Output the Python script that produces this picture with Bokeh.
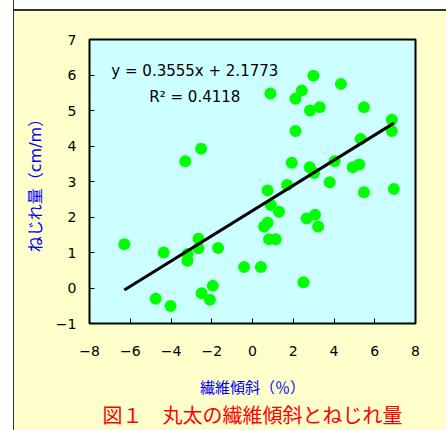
from bokeh.plotting import figure
from bokeh.models import Range1d, FixedTicker, CustomJSTickFormatter, Label, Title
from bokeh.embed import file_html
from bokeh.resources import INLINE

# ---- data ----
fiber_slope = [-6.29, -4.75, -4.36, -4.02, -3.30, -3.19, -3.19, -2.65, -2.65, -2.52,
               -2.50, -2.09, -1.95, -1.69, -0.41, 0.41, 0.57, 0.74, 0.74, 0.81,
               0.88, 0.90, 1.14, 1.30, 1.70, 1.93, 2.11, 2.11, 2.42, 2.50,
               2.66, 2.81, 2.82, 2.99, 3.02, 3.07, 3.22, 3.30, 3.79, 4.03,
               4.34, 4.92, 5.24, 5.31, 5.47, 5.47, 6.84, 6.84, 6.94]
twist = [1.23, -0.30, 1.00, -0.51, 3.57, 0.96, 0.77, 1.39, 1.12, 3.92,
         -0.15, -0.33, 0.06, 1.13, 0.59, 0.59, 1.73, 1.84, 2.75, 1.37,
         5.48, 2.34, 1.37, 2.15, 2.90, 3.53, 5.33, 4.42, 5.56, 0.16,
         1.96, 3.40, 5.00, 5.98, 3.24, 2.06, 1.73, 5.09, 2.98, 3.57,
         5.75, 3.40, 3.48, 4.20, 2.70, 5.09, 4.74, 4.42, 2.79]
slope = 0.3555
intercept = 2.1773
r_squared = 0.4118
x_ticks = [-8, -6, -4, -2, 0, 2, 4, 6, 8]
y_ticks = [-1, 0, 1, 2, 3, 4, 5, 6, 7]
x_label = "繊維傾斜（％）"
y_label = "ねじれ量（cm/m）"
title_text = "図１　丸太の繊維傾斜とねじれ量"
eq_text = "y = %.4fx + %.4f" % (slope, intercept)
r2_text = "R² = %.4f" % r_squared

JP_FONT = "DejaVu Sans, Noto Sans CJK JP"

p = figure(width=446, height=430,
           x_range=Range1d(x_ticks[0], x_ticks[-1]),
           y_range=Range1d(y_ticks[0], y_ticks[-1]),
           output_backend="svg", toolbar_location=None,
           min_border_left=89, min_border_right=31,
           min_border_top=39, min_border_bottom=107)

p.border_fill_color = None
p.styles = {
    "background": "linear-gradient(to right, #ffffff 0px, #ffffff 13px, #333333 13px, #333333 14.5px, rgba(255,255,255,0) 14.5px), "
                  "linear-gradient(to bottom, #ffffff 0px, #ffffff 9px, #333333 9px, #333333 10.5px, #ffffcc 10.5px)"
}
p.background_fill_color = "#ccffff"
p.outline_line_color = "black"
p.outline_line_width = 2
p.grid.visible = False

fmt = CustomJSTickFormatter(code="return tick < 0 ? '\u2212' + Math.abs(tick) : String(tick);")

for ax, ticks in ((p.xaxis[0], x_ticks), (p.yaxis[0], y_ticks)):
    ax.ticker = FixedTicker(ticks=ticks)
    ax.formatter = fmt
    ax.major_tick_in = 5
    ax.major_tick_out = 0
    ax.minor_tick_line_color = None
    ax.axis_line_color = None
    ax.major_tick_line_color = "black"
    ax.major_label_text_font = "DejaVu Sans"
    ax.major_label_text_font_size = "14px"
    ax.major_label_text_color = "black"
    ax.axis_label_text_font = JP_FONT
    ax.axis_label_text_font_style = "normal"
    ax.axis_label_text_color = "#0000ff"

p.xaxis.axis_label = x_label
p.xaxis.axis_label_text_font_size = "15px"
p.xaxis.major_label_standoff = 22
p.xaxis.axis_label_standoff = 20

p.yaxis.axis_label = y_label
p.yaxis.axis_label_text_font_size = "16px"
p.yaxis.major_label_standoff = 13
p.yaxis.axis_label_standoff = 8

p.scatter(fiber_slope, twist, size=12, fill_color="#00ff00", line_color=None)

x_lo, x_hi = min(fiber_slope), max(fiber_slope)
p.line([x_lo, x_hi], [slope * x_lo + intercept, slope * x_hi + intercept],
       line_color="black", line_width=3)

p.add_layout(Label(x=-2.83, y=6.11, text=eq_text, text_align="center", text_baseline="middle",
                   text_font="DejaVu Sans", text_font_size="15px", text_color="black"))
p.add_layout(Label(x=-2.83, y=5.37, text=r2_text, text_align="center", text_baseline="middle",
                   text_font="DejaVu Sans", text_font_size="15px", text_color="black"))

p.add_layout(Title(text=title_text, align="center", text_font=JP_FONT,
                   text_font_size="20px", text_font_style="normal", text_color="#ff0000",
                   standoff=5), "below")

open("out.html", "w").write(file_html(p, INLINE))
